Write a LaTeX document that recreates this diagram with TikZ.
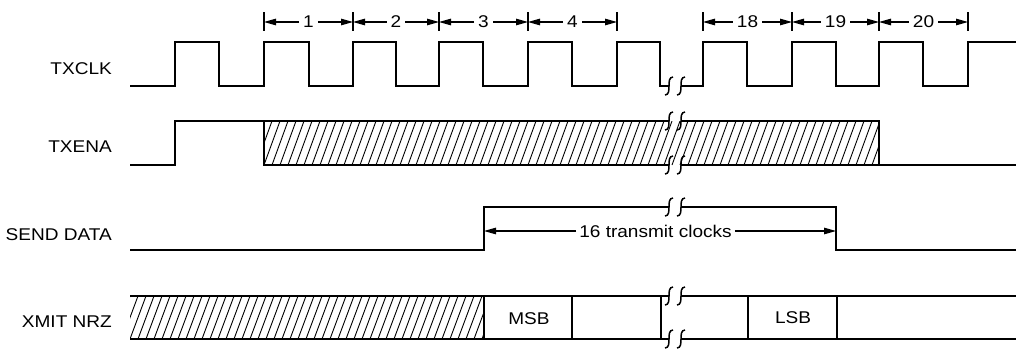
\documentclass[tikz,border=0pt]{standalone}
\usepackage{fontspec}
\setmainfont[FakeStretch=1.12]{Liberation Sans}
\usetikzlibrary{arrows.meta,calc}
\begin{document}
\begin{tikzpicture}[x=1pt,y=-1pt,
  sig/.style={line width=1.9pt, line join=miter},
  hatchline/.style={line width=0.9pt},
  dimline/.style={line width=1.2pt, -{Triangle[length=12pt,width=6.5pt]}},
  tickline/.style={line width=1.2pt},
  lbl/.style={font=\fontsize{17}{19}\selectfont, inner sep=0pt},
  dimlbl/.style={font=\fontsize{17}{19}\selectfont, inner sep=4pt},
  brk/.style={line width=1.5pt},
  brkmark/.pic={\draw[brk] (4,-9) .. controls (0,-9) and (0,-4) .. (0,0) .. controls (0,4) and (0,9) .. (-4,9);}
]
\useasboundingbox (0,0) rectangle (1020,356);

% signal labels
\node[lbl, anchor=east] (lclk) at (112,69) {TXCLK};
\node[lbl, anchor=east] (lena) at (112,147) {TXENA};
\node[lbl, anchor=east] (lsend) at (112,235) {SEND DATA};
\node[lbl, anchor=east] (lnrz) at (112,322) {XMIT NRZ};

% TXCLK
\draw[sig] (130,86) -| (175,42) -| (219,86) -| (264,42) -| (309,86) -| (353,42)
  -| (396,86) -| (439,42) -| (483,86) -| (528,42) -| (572,86) -| (617,42)
  -| (660,86) -- (669,86);
\draw[sig] (681,86) -| (703,42) -| (747,86) -| (792,42) -| (836,86) -| (879,42)
  -| (923,86) -| (968,42) -- (1016,42);
\pic at (669,86) {brkmark};
\pic at (681,86) {brkmark};

% TXENA
\begin{scope}
  \clip (264,121) rectangle (879,165);
  \foreach \i in {0,...,80} \draw[hatchline] (248+8*\i,165) -- (264+8*\i,121);
\end{scope}
\draw[sig] (130,165) -| (175,121) -- (669,121);
\draw[sig] (681,121) -- (879,121) -- (879,165) -- (1016,165);
\draw[sig] (264,121) -- (264,165) -- (669,165);
\draw[sig] (681,165) -- (879,165);
\pic at (669,121) {brkmark};
\pic at (681,121) {brkmark};
\pic at (669,165) {brkmark};
\pic at (681,165) {brkmark};

% SEND DATA
\draw[sig] (130,250) -| (484,207) -- (669,207);
\draw[sig] (681,207) -| (836,250) -- (1016,250);
\pic at (669,207) {brkmark};
\pic at (681,207) {brkmark};
\coordinate (sdl) at (484,231);
\coordinate (sdr) at (836,231);
\node[font=\fontsize{17}{19}\selectfont, inner sep=3pt] (sdt) at (655.5,231) {16 transmit clocks};
\draw[dimline] (sdt.west) -- (sdl);
\draw[dimline] (sdt.east) -- (sdr);

% XMIT NRZ
\begin{scope}
  \clip (130,296) rectangle (484,339);
  \foreach \i in {0,...,48} \draw[hatchline] (114+8*\i,339) -- (130+8*\i,296);
\end{scope}
\draw[sig] (130,296) -- (669,296);
\draw[sig] (681,296) -- (1016,296);
\draw[sig] (130,339) -- (669,339);
\draw[sig] (681,339) -- (1016,339);
\foreach \x in {484,572,661,748,837} \draw[sig] (\x,296) -- (\x,339);
\pic at (669,296) {brkmark};
\pic at (681,296) {brkmark};
\pic at (669,339) {brkmark};
\pic at (681,339) {brkmark};
\node[lbl] (msb) at (529,319) {MSB};
\node[lbl] (lsb) at (793,318) {LSB};

% top dimension marks
\foreach \n/\x in {a/264,b/353,c/439,d/528,e/617,f/703,g/792,h/879,i/968} {
  \coordinate (t\n) at (\x,22);
  \draw[tickline] (t\n) ++(0,-10) -- ++(0,19);
}
\foreach \l/\a/\b in {1/a/b,2/b/c,3/c/d,4/d/e,18/f/g,19/g/h,20/h/i} {
  \node[dimlbl] (d\l) at ($(t\a)!0.5!(t\b)$) {\l};
  \draw[dimline] (d\l.west) -- (t\a);
  \draw[dimline] (d\l.east) -- (t\b);
}
\end{tikzpicture}
\end{document}
